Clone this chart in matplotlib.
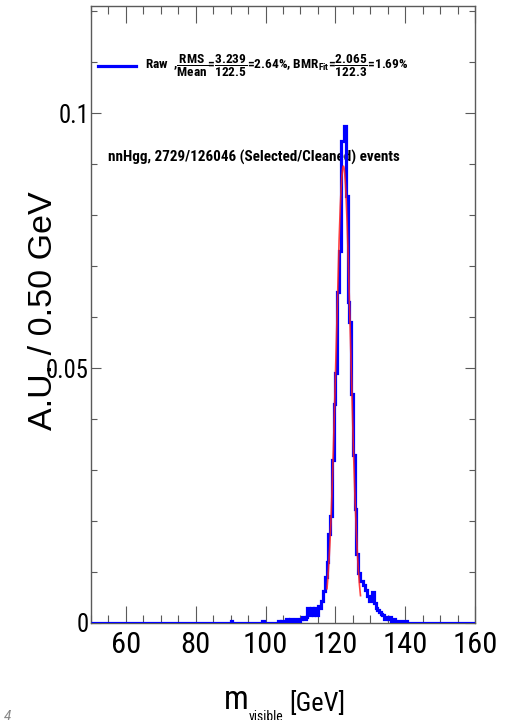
import os
import numpy as np
import matplotlib
matplotlib.use("Agg")
import matplotlib.pyplot as plt
from matplotlib import font_manager
from matplotlib.lines import Line2D
from matplotlib.ticker import MultipleLocator, FixedLocator

# ---------------- data ----------------
bin_width = 0.5
x_range = (50.0, 160.0)
first_filled_edge = 90.0          # lower edge of first listed bin
frac_per_bin = [
    0.00037,                                   # 90.0
    0, 0, 0, 0, 0, 0, 0, 0, 0, 0, 0, 0, 0, 0, 0, 0, 0,   # 90.5 .. 98.5
    0.00037,                                   # 99.0
    0, 0, 0, 0, 0, 0, 0, 0,                    # 99.5 .. 103.0
    0.00037, 0, 0.00037, 0, 0.00037,           # 103.5 .. 105.5
    0.00073, 0.00037, 0.00073, 0, 0.00037,     # 106.0 .. 108.0
    0.00073, 0.00037, 0.00037, 0.00073, 0.0011,  # 108.5 .. 110.5
    0.00073, 0.0011, 0.0029, 0.0015, 0.0029,   # 111.0 .. 113.0
    0.0015, 0.0029, 0.0015, 0.0033, 0.0030,    # 113.5 .. 115.5
    0.0044, 0.0063, 0.0090, 0.0120, 0.0174,    # 116.0 .. 118.0
    0.0210, 0.0320, 0.0430, 0.0490, 0.0650,    # 118.5 .. 120.5
    0.0730, 0.0945, 0.0945, 0.0975, 0.0837,    # 121.0 .. 123.0
    0.0630, 0.0590, 0.0450, 0.0330, 0.0224,    # 123.5 .. 125.5
    0.0135, 0.0098, 0.0082, 0.0082, 0.0075,    # 126.0 .. 128.0
    0.0065, 0.0053, 0.0043, 0.0043, 0.0060,    # 128.5 .. 130.5
    0.0040, 0.0030, 0.0025, 0.0022, 0.0018,    # 131.0 .. 133.0
    0.0015, 0.0008, 0.0011, 0.0008, 0.0011,    # 133.5 .. 135.5
    0.00037, 0.00073, 0.00037, 0.00037, 0.00037,  # 136.0 .. 138.0
    0.00037, 0.00037, 0.00037, 0.00037,        # 138.5 .. 140.0
]
# Gaussian fit shown in red
fit_amplitude = 0.0896
fit_mean = 122.3
fit_sigma = 2.065
fit_range = (117.6, 127.2)

x_major_ticks = [60, 80, 100, 120, 140, 160]
y_major_ticks = [0, 0.05, 0.1]
y_tick_labels = ["0", "0.05", "0.1"]

legend_label = (r"Raw  ,$\mathbf{\dfrac{RMS}{Mean}}$=$\mathbf{\dfrac{3.239}{122.5}}$=2.64%, "
                r"BMR$_{\mathbf{Fit}}$=$\mathbf{\dfrac{2.065}{122.3}}$=1.69%")
info_text = "nnHgg, 2729/126046 (Selected/Cleaned) events"
y_label = "A.U. / 0.50 GeV"

# ---------------- fonts ----------------
def pick(cands):
    for c in cands:
        for f in font_manager.fontManager.ttflist:
            if os.path.basename(f.fname).lower().startswith(c.lower()):
                return f
    return None

reg = pick(["LiberationSansNarrow-Regular", "RobotoCondensed-Regular",
            "NotoSans-Condensed.", "NotoSans-CondensedRegular",
            "OpenSans_Condensed-Regular", "OpenSans-CondensedRegular",
            "DejaVuSansCondensed.", "LiberationSans-Regular"])
if reg is not None:
    NARROW = reg.name
    st = reg.stretch
    if not isinstance(st, str):
        st = "condensed" if st < 500 else "normal"
    STRETCH = st
else:
    NARROW, STRETCH = "Liberation Sans", "normal"
WIDE = "Liberation Sans"

plt.rcParams["font.family"] = [NARROW, "DejaVu Sans"]
plt.rcParams["font.stretch"] = STRETCH
spec = NARROW + (":stretch=" + STRETCH if STRETCH != "normal" else "")
plt.rcParams["mathtext.fontset"] = "custom"
plt.rcParams["mathtext.rm"] = spec
plt.rcParams["mathtext.it"] = spec
plt.rcParams["mathtext.bf"] = spec + ":weight=bold"

W, H = 507, 720
fig = plt.figure(figsize=(W / 100, H / 100), dpi=100)
renderer = fig.canvas.get_renderer()


def fit_size(s, target_px, base=20, **kw):
    t = fig.text(0, 0, s, fontsize=base, **kw)
    w = t.get_window_extent(renderer).width
    t.remove()
    return base * target_px / w


xtick_size = fit_size("160", 45)
ytick_size = fit_size("0.05", 43)
m_size = fit_size("m", 25)
xlab_size = fit_size("[GeV]", 56)
sub_size = fit_size("visible", 35)
leg_size = fit_size(legend_label, 262, fontweight="bold")
info_size = fit_size(info_text, 292, fontweight="bold")

ax = fig.add_axes([91 / W, 97 / H, 384 / W, 617 / H])

edges = np.arange(x_range[0], x_range[1] + bin_width / 2, bin_width)
values = np.zeros(len(edges) - 1)
i0 = int(round((first_filled_edge - x_range[0]) / bin_width))
values[i0:i0 + len(frac_per_bin)] = frac_per_bin

ax.stairs(values, edges, baseline=None, color="#0000ff", lw=2.3, zorder=3)

xf = np.linspace(fit_range[0], fit_range[1], 200)
yf = fit_amplitude * np.exp(-0.5 * ((xf - fit_mean) / fit_sigma) ** 2)
ax.plot(xf, yf, color="#ff2020", lw=1.2, alpha=0.85, zorder=4)

ax.set_xlim(*x_range)
ax.set_ylim(0, 0.121)

ax.xaxis.set_major_locator(FixedLocator(x_major_ticks))
ax.xaxis.set_minor_locator(MultipleLocator(5))
ax.yaxis.set_major_locator(FixedLocator(y_major_ticks))
ax.set_yticklabels(y_tick_labels)
ax.yaxis.set_minor_locator(MultipleLocator(0.01))

spine_c = "#5a5a5a"
for s in ax.spines.values():
    s.set_color(spine_c)
    s.set_linewidth(1.0)
ax.tick_params(axis="x", which="major", direction="in", length=12, width=0.8,
               color=spine_c, top=True, labelsize=xtick_size, pad=6)
ax.tick_params(axis="x", which="minor", direction="in", length=6, width=0.8,
               color=spine_c, top=True)
ax.tick_params(axis="y", which="major", direction="in", length=7, width=0.8,
               color=spine_c, right=True, labelsize=ytick_size, pad=1.5)
ax.tick_params(axis="y", which="minor", direction="in", length=4.5, width=0.8,
               color=spine_c, right=True)

# y label
fig.text(44 / W, 1 - 311 / H, y_label, rotation=90, ha="center", va="center",
         fontsize=24.5, family=[WIDE, "DejaVu Sans"], stretch="normal")

# x label: m_visible [GeV]
fig.text(224 / W, 1 - 709 / H, "m", ha="left", va="baseline", fontsize=m_size)
fig.text(249 / W, 1 - 721 / H, "visible", ha="left", va="baseline", fontsize=sub_size)
fig.text(289 / W, 1 - 711 / H, "[GeV]", ha="left", va="baseline", fontsize=xlab_size)

# stray page number at bottom-left
fig.text(4 / W, -4 / H, "4", ha="left", va="bottom", fontsize=11, color="#888888",
         style="italic")

# legend
fig.add_artist(Line2D([98 / W, 136 / W], [1 - 66 / H, 1 - 66 / H], color="#0000ff", lw=2.3))
fig.text(145 / W, 1 - 66 / H, legend_label, ha="left", va="center", fontsize=leg_size,
         fontweight="bold")

# info text
ax.text(108 / W, 1 - 157 / H, info_text, transform=fig.transFigure, ha="left",
        va="center", fontsize=info_size, fontweight="bold", zorder=2)

fig.savefig("out.png", dpi=100)
